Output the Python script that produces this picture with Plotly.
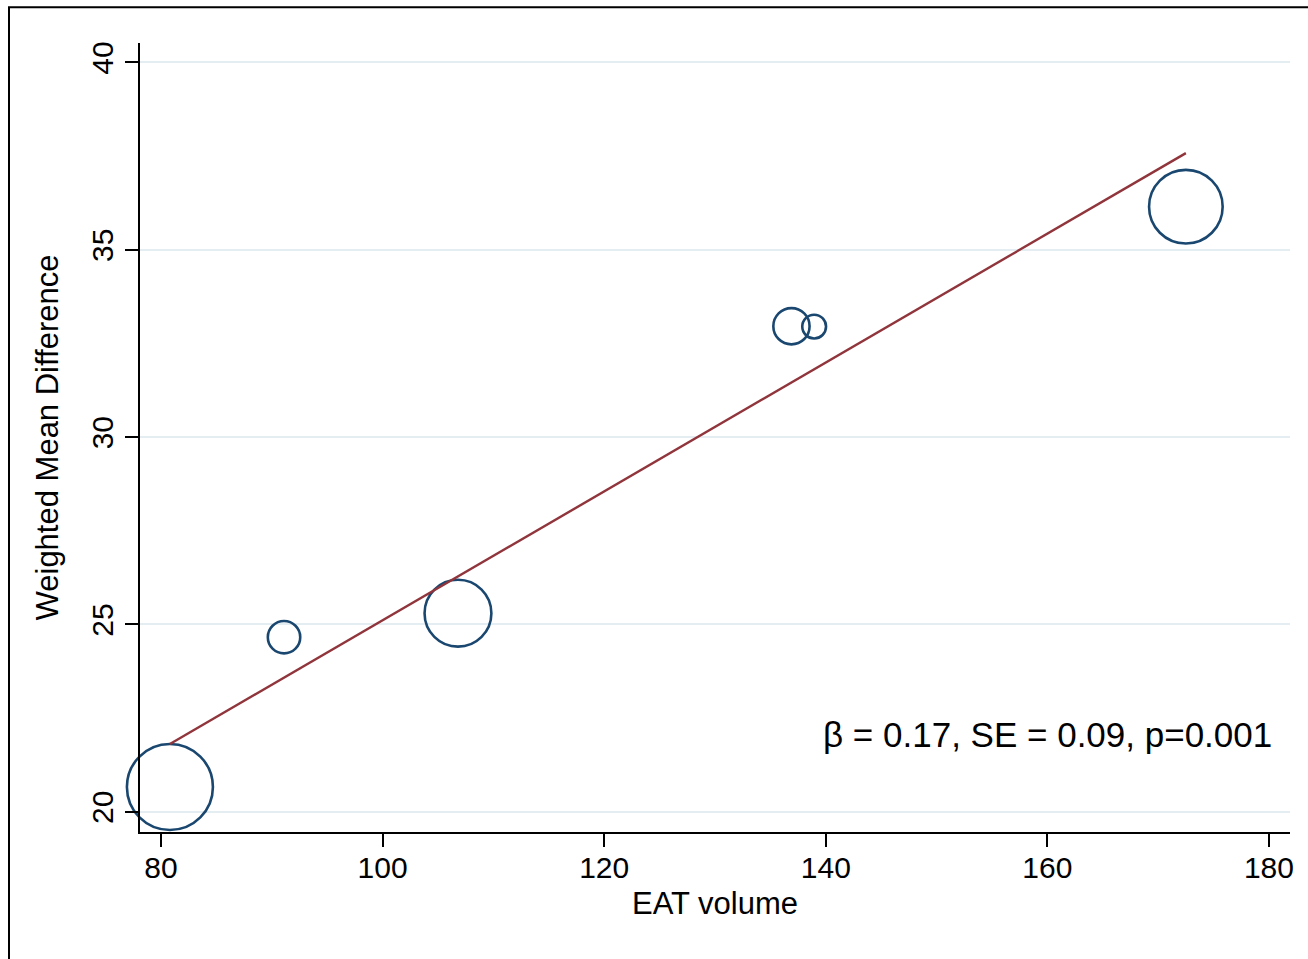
import plotly.graph_objects as go

# Study-level estimates: EAT volume vs weighted mean difference, with study weights (%)
eat_volume = [80.8, 91.1, 106.8, 136.9, 138.95, 172.5]
wmd = [20.66, 24.66, 25.30, 32.96, 32.95, 36.15]
study_weight = [36.6, 5.2, 22.1, 6.5, 2.8, 26.8]

# Meta-regression fitted line over the observed EAT range
fit_x = [80.8, 172.5]
fit_y = [21.81, 37.58]

x_ticks = [80, 100, 120, 140, 160, 180]
y_ticks = [20, 25, 30, 35, 40]

stat_text = "β = 0.17, SE = 0.09, p=0.001"

NAVY = "#1a476f"
MAROON = "#90353b"
FONT = "Liberation Sans, Arial, Helvetica, sans-serif"

fig = go.Figure()

fig.add_trace(go.Scatter(
    x=eat_volume, y=wmd, mode="markers", cliponaxis=False,
    marker=dict(
        size=study_weight, sizemode="area", sizeref=2 * 36.6 / 86**2,
        opacity=1, color="rgba(0,0,0,0)", line=dict(color=NAVY, width=2.6),
    ),
    showlegend=False, hoverinfo="x+y",
))

fig.add_trace(go.Scatter(
    x=fit_x, y=fit_y, mode="lines",
    line=dict(color=MAROON, width=2.4),
    showlegend=False,
))

fig.add_annotation(
    xref="paper", yref="paper", x=(1274 - 140) / 1150, y=(832 - 734) / 789.3,
    text=stat_text, showarrow=False, xanchor="right", yanchor="middle",
    font=dict(family=FONT, size=35, color="black"),
)

# Outer frame (top and left edges are visible inside the canvas)
fig.add_shape(
    type="rect", xref="paper", yref="paper",
    x0=(9 - 140) / 1150, x1=(1330 - 140) / 1150,
    y0=(832 - 990) / 789.3, y1=(832 - 7) / 789.3,
    line=dict(color="black", width=2), fillcolor="rgba(0,0,0,0)",
    layer="below",
)

fig.update_xaxes(
    range=[78.1, 181.9], tickvals=x_ticks, ticks="outside", ticklen=13,
    tickwidth=1.5, tickcolor="black", showline=True, linecolor="black",
    linewidth=1.5, showgrid=False, zeroline=False, ticklabelstandoff=-5,
    tickfont=dict(family=FONT, size=30, color="black"),
    title=dict(text="EAT volume", font=dict(family=FONT, size=31, color="black"),
               standoff=10),
)
fig.update_yaxes(
    range=[19.46, 40.52], tickvals=y_ticks, ticks="outside", ticklen=13,
    tickwidth=1.5, tickcolor="black", showline=True, linecolor="black",
    linewidth=1.5, showgrid=True, gridcolor="#e4edf1", gridwidth=1.5,
    zeroline=False, tickangle=-90,
    tickfont=dict(family=FONT, size=30, color="black"),
    title=dict(text="Weighted Mean Difference",
               font=dict(family=FONT, size=31, color="black"), standoff=18),
)

fig.update_layout(
    width=1308, height=959, autosize=False,
    margin=dict(l=140, r=18, t=43, b=127),
    paper_bgcolor="white", plot_bgcolor="white",
)

fig.write_html("out.html")
